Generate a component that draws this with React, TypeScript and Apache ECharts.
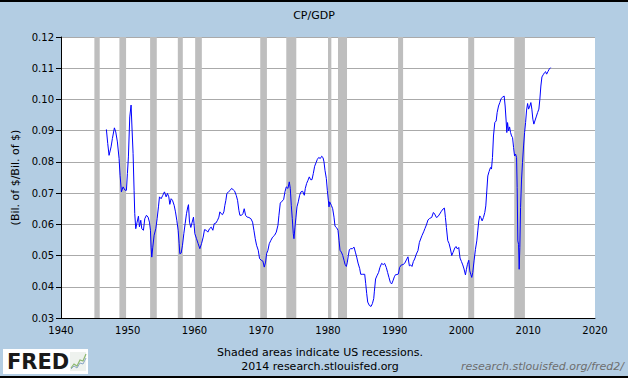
import React, { useEffect, useRef } from "react";
import * as echarts from "echarts";

const title = "CP/GDP";
const yAxisName = "(Bil. of $/Bil. of $)";
const xTicks = [1940, 2020, 10];
const yTicks = [0.03, 0.12, 0.01];

const years = [
  1946.8, 1947.0, 1947.2, 1947.5, 1947.7, 1948.0, 1948.2, 1948.45, 1948.7, 1948.85,
  1949.05, 1949.3, 1949.6, 1949.8, 1949.95, 1950.1, 1950.3, 1950.5, 1950.65, 1950.8,
  1950.95, 1951.05, 1951.2, 1951.4, 1951.6, 1951.75, 1951.95, 1952.1, 1952.35, 1952.55,
  1952.8, 1953.05, 1953.25, 1953.4, 1953.5, 1953.6, 1953.75, 1953.95, 1954.2, 1954.4,
  1954.6, 1954.75, 1955.0, 1955.25, 1955.5, 1955.75, 1955.95, 1956.15, 1956.3, 1956.5,
  1956.7, 1956.95, 1957.15, 1957.35, 1957.55, 1957.7, 1957.8, 1958.0, 1958.2, 1958.4,
  1958.6, 1958.8, 1959.0, 1959.1, 1959.25, 1959.45, 1959.65, 1959.85, 1960.05, 1960.3,
  1960.55, 1960.8, 1961.05, 1961.3, 1961.5, 1961.75, 1962.0, 1962.25, 1962.5, 1962.75,
  1962.95, 1963.2, 1963.45, 1963.65, 1963.8, 1964.0, 1964.2, 1964.4, 1964.55, 1964.7,
  1964.85, 1965.1, 1965.35, 1965.55, 1965.8, 1966.0, 1966.25, 1966.45, 1966.65, 1966.8,
  1967.05, 1967.25, 1967.45, 1967.65, 1967.9, 1968.15, 1968.45, 1968.7, 1968.9, 1969.1,
  1969.3, 1969.55, 1969.75, 1970.0, 1970.25, 1970.45, 1970.65, 1970.8, 1971.0, 1971.2,
  1971.45, 1971.7, 1972.0, 1972.25, 1972.5, 1972.65, 1972.85, 1973.1, 1973.35, 1973.55,
  1973.75, 1974.0, 1974.2, 1974.35, 1974.5, 1974.65, 1974.8, 1974.9, 1975.05, 1975.2,
  1975.35, 1975.55, 1975.75, 1975.95, 1976.2, 1976.45, 1976.6, 1976.8, 1977.0, 1977.2,
  1977.4, 1977.6, 1977.8, 1978.0, 1978.2, 1978.4, 1978.6, 1978.85, 1979.05, 1979.25,
  1979.4, 1979.55, 1979.75, 1979.9, 1980.05, 1980.15, 1980.25, 1980.5, 1980.7, 1980.9,
  1981.05, 1981.3, 1981.5, 1981.65, 1981.8, 1982.0, 1982.2, 1982.4, 1982.55, 1982.75,
  1982.9, 1983.05, 1983.2, 1983.4, 1983.65, 1983.9, 1984.1, 1984.3, 1984.5, 1984.75,
  1984.9, 1985.2, 1985.5, 1985.65, 1985.8, 1985.95, 1986.2, 1986.45, 1986.65, 1986.85,
  1986.95, 1987.13, 1987.33, 1987.58, 1987.78, 1988.03, 1988.28, 1988.48, 1988.73, 1988.93,
  1989.13, 1989.34, 1989.53, 1989.73, 1989.94, 1990.13, 1990.33, 1990.54, 1990.73, 1990.99,
  1991.23, 1991.48, 1991.74, 1991.98, 1992.19, 1992.38, 1992.58, 1992.79, 1992.98, 1993.24,
  1993.48, 1993.69, 1993.88, 1994.08, 1994.33, 1994.53, 1994.74, 1994.98, 1995.23, 1995.53,
  1995.79, 1995.98, 1996.24, 1996.48, 1996.73, 1996.99, 1997.23, 1997.44, 1997.59, 1997.74,
  1997.94, 1998.13, 1998.34, 1998.54, 1998.73, 1998.99, 1999.18, 1999.39, 1999.59, 1999.78,
  1999.99, 2000.19, 2000.38, 2000.59, 2000.74, 2000.89, 2001.09, 2001.24, 2001.39, 2001.54,
  2001.69, 2001.88, 2002.09, 2002.29, 2002.44, 2002.59, 2002.74, 2002.89, 2003.09, 2003.29,
  2003.49, 2003.64, 2003.79, 2003.94, 2004.13, 2004.34, 2004.49, 2004.64, 2004.79, 2004.99,
  2005.19, 2005.34, 2005.55, 2005.74, 2005.94, 2006.19, 2006.39, 2006.54, 2006.69, 2006.79,
  2006.9, 2007.05, 2007.2, 2007.35, 2007.5, 2007.65, 2007.8, 2007.95, 2008.1, 2008.25,
  2008.34, 2008.44, 2008.55, 2008.64, 2008.74, 2008.85, 2009.0, 2009.14, 2009.3, 2009.45,
  2009.6, 2009.75, 2009.9, 2010.05, 2010.24, 2010.39, 2010.54, 2010.69, 2010.84, 2010.99,
  2011.19, 2011.4, 2011.59, 2011.74, 2011.89, 2012.05, 2012.24, 2012.45, 2012.6, 2012.75,
  2012.94, 2013.14, 2013.35,
];

const cpGdp = [
  0.0904, 0.0859, 0.0821, 0.0848, 0.0875, 0.0909, 0.0896, 0.0864, 0.0811, 0.0757,
  0.0704, 0.072, 0.0709, 0.0709, 0.0763, 0.0816, 0.0944, 0.0982, 0.0902, 0.0827,
  0.0709, 0.0634, 0.0586, 0.0607, 0.0626, 0.0592, 0.0613, 0.0586, 0.0581, 0.0618,
  0.0629, 0.0623, 0.0607, 0.0581, 0.0527, 0.0495, 0.0527, 0.0565, 0.0586, 0.0618,
  0.0656, 0.0688, 0.0682, 0.0693, 0.0704, 0.0688, 0.0699, 0.0688, 0.0664, 0.0682,
  0.0677, 0.0661, 0.064, 0.0613, 0.0581, 0.0538, 0.0506, 0.0508, 0.0533, 0.057,
  0.0602, 0.0634, 0.0656, 0.0663, 0.0607, 0.059, 0.0607, 0.0623, 0.057, 0.0554,
  0.0538, 0.0522, 0.0538, 0.0559, 0.0583, 0.0581, 0.0575, 0.0586, 0.0591, 0.0581,
  0.0602, 0.0604, 0.0613, 0.0623, 0.064, 0.0634, 0.0631, 0.064, 0.0661, 0.0677,
  0.0699, 0.0704, 0.0709, 0.0715, 0.0711, 0.0707, 0.0693, 0.0677, 0.0645, 0.0629,
  0.0629, 0.0634, 0.065, 0.0629, 0.0623, 0.0622, 0.0618, 0.0607, 0.0581, 0.0554,
  0.0533, 0.0517, 0.049, 0.0485, 0.0482, 0.0463, 0.0479, 0.0506, 0.0517, 0.0538,
  0.0549, 0.0559, 0.0565, 0.0575, 0.0597, 0.0629, 0.0668, 0.0674, 0.0679, 0.0704,
  0.072, 0.0715, 0.0736, 0.0715, 0.0661, 0.0618, 0.057, 0.0554, 0.0591, 0.0623,
  0.0656, 0.0672, 0.0693, 0.0704, 0.0706, 0.0693, 0.0715, 0.0731, 0.0741, 0.0752,
  0.0743, 0.0743, 0.0763, 0.0786, 0.0797, 0.0808, 0.0814, 0.0811, 0.0818, 0.0814,
  0.08, 0.0773, 0.0747, 0.0709, 0.0677, 0.0656, 0.0672, 0.0661, 0.065, 0.0623,
  0.0594, 0.0589, 0.0581, 0.0549, 0.0517, 0.0511, 0.0501, 0.0485, 0.0472, 0.0465,
  0.0479, 0.0501, 0.0519, 0.0522, 0.0522, 0.0527, 0.0511, 0.0495, 0.0476, 0.0458,
  0.044, 0.044, 0.044, 0.041, 0.0378, 0.0351, 0.034, 0.0337, 0.0346, 0.0362,
  0.0386, 0.0425, 0.0435, 0.0446, 0.0462, 0.0475, 0.0471, 0.0475, 0.0462, 0.0446,
  0.043, 0.0414, 0.0409, 0.0419, 0.0432, 0.0439, 0.0439, 0.0441, 0.0462, 0.047,
  0.0471, 0.0475, 0.0486, 0.0496, 0.0467, 0.047, 0.0465, 0.0481, 0.0489, 0.0505,
  0.0516, 0.0542, 0.0553, 0.0564, 0.0576, 0.0587, 0.0598, 0.0614, 0.0619, 0.0622,
  0.0638, 0.0633, 0.0622, 0.0625, 0.0633, 0.0642, 0.0649, 0.0652, 0.0622, 0.059,
  0.0548, 0.0539, 0.0521, 0.05, 0.051, 0.0524, 0.0529, 0.0521, 0.0526, 0.0492,
  0.0481, 0.047, 0.0457, 0.0438, 0.0456, 0.0472, 0.0485, 0.0451, 0.044, 0.043,
  0.0446, 0.0483, 0.052, 0.0547, 0.0579, 0.0611, 0.0627, 0.0622, 0.0611, 0.0622,
  0.0638, 0.0659, 0.0707, 0.0755, 0.0769, 0.0782, 0.0777, 0.0814, 0.0883, 0.0926,
  0.0931, 0.0958, 0.0979, 0.099, 0.1003, 0.1008, 0.1011, 0.0979, 0.0931, 0.0894,
  0.0926, 0.0899, 0.0912, 0.0894, 0.0883, 0.0878, 0.0846, 0.0819, 0.0825, 0.0814,
  0.0718, 0.0547, 0.0536, 0.0456, 0.0526, 0.0654, 0.0745, 0.0798, 0.0851, 0.0894,
  0.0926, 0.0966, 0.0987, 0.0969, 0.0979, 0.099, 0.0969, 0.0937, 0.0921, 0.0931,
  0.0944, 0.0958, 0.0969, 0.1001, 0.1043, 0.1072, 0.1079, 0.1086, 0.1089, 0.1081,
  0.1089, 0.1097, 0.1102,
];

const recessionStarts = [1945.0, 1948.75, 1953.35, 1957.5, 1960.1, 1969.85, 1973.75, 1980.0, 1981.5, 1990.5, 2001.0, 2007.9];
const recessionEnds = [1945.8, 1949.75, 1954.35, 1958.25, 1961.1, 1970.85, 1975.25, 1980.5, 1982.85, 1991.25, 2001.9, 2009.5];

const FONT = "DejaVu Sans";

export default function App() {
  const ref = useRef<HTMLDivElement>(null);
  useEffect(() => {
    if (!ref.current) return;
    const chart = echarts.init(ref.current, undefined, { renderer: "svg" });
    const data = years.map((y, i) => [y, cpGdp[i]]);
    const bands = recessionStarts.map((s, i) => [{ xAxis: s }, { xAxis: recessionEnds[i] }]);
    chart.setOption({
      animation: false,
      backgroundColor: "#B3CDE3",
      textStyle: { fontFamily: FONT },
      title: {
        text: title,
        left: "center",
        top: 5,
        textStyle: { fontFamily: FONT, fontSize: 11, fontWeight: "normal", color: "#000" },
      },
      grid: {
        left: 61,
        right: 33,
        top: 37,
        bottom: 60,
        show: true,
        backgroundColor: "#FFFFFF",
        borderWidth: 0,
      },
      xAxis: {
        type: "value",
        min: xTicks[0],
        max: xTicks[1],
        interval: xTicks[2],
        axisLine: { show: true, lineStyle: { color: "#000", width: 1 } },
        axisTick: { show: false },
        splitLine: { show: false },
        axisLabel: {
          color: "#000",
          fontSize: 10,
          fontFamily: FONT,
          margin: 7,
          formatter: (v: number) => String(v),
        },
      },
      yAxis: {
        type: "value",
        min: yTicks[0],
        max: yTicks[1],
        interval: yTicks[2],
        name: yAxisName,
        nameLocation: "middle",
        nameGap: 40,
        nameRotate: 90,
        nameTextStyle: { color: "#000", fontSize: 11, fontFamily: FONT },
        axisLine: { show: true, lineStyle: { color: "#000", width: 1 } },
        axisTick: { show: true, length: 5, lineStyle: { color: "#000" } },
        splitLine: { show: true, lineStyle: { color: "#AAAAAA", width: 1 } },
        axisLabel: {
          color: "#000",
          fontSize: 10,
          fontFamily: FONT,
          margin: 7,
          formatter: (v: number) => v.toFixed(2),
        },
      },
      series: [
        {
          type: "line",
          data,
          showSymbol: false,
          symbol: "none",
          lineStyle: { color: "#0000FF", width: 1 },
          markArea: {
            silent: true,
            itemStyle: { color: "#BEBEBE" },
            data: bands,
          },
        },
      ],
      graphic: [
        { type: "rect", shape: { x: 0, y: 0, width: 628, height: 2 }, style: { fill: "#000" } },
        { type: "rect", shape: { x: 0, y: 376, width: 628, height: 2 }, style: { fill: "#000" } },
        { type: "rect", shape: { x: 3, y: 349, width: 85, height: 25 }, style: { fill: "#FFFFFF" } },
        {
          type: "text",
          x: 7,
          y: 362,
          style: {
            text: "FRED",
            fill: "#1A1A1A",
            font: `900 21px "${FONT}"`,
            verticalAlign: "middle",
            align: "left",
          },
        },
        { type: "rect", shape: { x: 70, y: 352, width: 16, height: 19 }, style: { fill: "#EEF2EE" } },
        {
          type: "polyline",
          shape: { points: [[71, 368], [74, 364], [77, 366], [80, 360], [83, 361], [86, 354]] },
          style: { stroke: "#8DB870", lineWidth: 1.2, fill: "none" },
        },
        {
          type: "polyline",
          shape: { points: [[71, 369], [74, 366], [77, 368], [80, 363], [83, 364], [86, 358]] },
          style: { stroke: "#8AA5C8", lineWidth: 1, fill: "none" },
        },
        {
          type: "text",
          x: 320,
          y: 352,
          style: {
            text: "Shaded areas indicate US recessions.",
            fill: "#000",
            font: `11px "${FONT}"`,
            align: "center",
            verticalAlign: "middle",
          },
        },
        {
          type: "text",
          x: 320,
          y: 366,
          style: {
            text: "2014 research.stlouisfed.org",
            fill: "#000",
            font: `11px "${FONT}"`,
            align: "center",
            verticalAlign: "middle",
          },
        },
        {
          type: "text",
          x: 624,
          y: 366,
          style: {
            text: "research.stlouisfed.org/fred2/",
            fill: "#6E6E6E",
            font: `italic 11px "${FONT}"`,
            align: "right",
            verticalAlign: "middle",
          },
        },
      ],
    });
    return () => chart.dispose();
  }, []);
  return (
    <div
      ref={ref}
      style={{ position: "absolute", left: 0, top: 0, width: 628, height: 378 }}
    />
  );
}
